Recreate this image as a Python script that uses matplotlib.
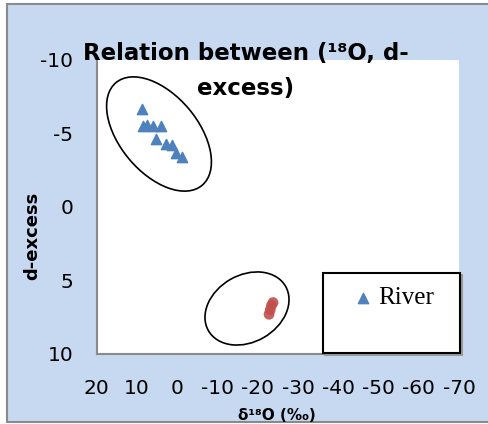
import numpy as np
import matplotlib
matplotlib.use("Agg")
from matplotlib import pyplot as plt
from matplotlib.patches import Rectangle, Ellipse

# δ18O と d-excess
river_o18 = [8.7, 8.5, 7.4, 6.0, 4.1, 5.3, 2.7, 1.4, 0.2, -1.2]
river_dex = [-6.7, -5.5, -5.6, -5.5, -5.5, -4.6, -4.3, -4.2, -3.7, -3.4]

other_o18 = [-23.8, -23.4, -23.1, -22.8]
other_dex = [6.5, 6.7, 7.0, 7.3]

x_ticks = [20, 10, 0, -10, -20, -30, -40, -50, -60, -70]
y_ticks = [-10, -5, 0, 5, 10]

BLUE = "#4F81BD"
RED = "#C0504D"
BG = "#C6D9F0"
GREY = "#8A8A8A"

plt.rcParams["font.family"] = ["DejaVu Sans"]
plt.rcParams["axes.unicode_minus"] = False

fig = plt.figure(figsize=(4.89, 4.24), dpi=100, facecolor="white")

# 背景の枠
fig.add_artist(Rectangle((0.0143, 0.0047), 1.0, 0.986, transform=fig.transFigure,
                         facecolor=BG, edgecolor=GREY, linewidth=1.5, zorder=-1))

ax = fig.add_axes([0.1978, 0.1651, 0.7409, 0.6934])
ax.set_facecolor("white")

ax.scatter(river_o18, river_dex, marker="^", s=55, color=BLUE, label="River", zorder=3)
ax.scatter(other_o18, other_dex, marker="o", s=60, color=RED, alpha=0.9,
           edgecolors="none", label="_nolegend_", zorder=3)

ax.set_xlim(20, -70)
ax.set_ylim(10, -10)
ax.set_xticks(x_ticks)
ax.set_yticks(y_ticks)
ax.tick_params(axis="both", length=0, labelsize=14.5)
ax.tick_params(axis="y", pad=17)
ax.tick_params(axis="x", pad=18)

for side in ["top", "right"]:
    ax.spines[side].set_visible(False)
for side in ["left", "bottom"]:
    ax.spines[side].set_color(GREY)
    ax.spines[side].set_linewidth(1.5)

ax.set_xlabel("δ¹⁸O (‰)", fontsize=11, fontweight="bold")
ax.xaxis.set_label_coords(0.4977, -0.185)
ax.set_ylabel("d-excess", fontsize=13, fontweight="bold")
ax.yaxis.set_label_coords(-0.154, 0.401)

fig.text(0.503, 0.833, "Relation between (¹⁸O, d-\nexcess)", ha="center", va="center",
         fontsize=16.5, fontweight="bold", linespacing=1.7)

# グループを囲む楕円
fig.add_artist(Ellipse((1.59, 2.90), 1.34, 0.78, angle=-50, transform=fig.dpi_scale_trans,
                       fill=False, edgecolor="black", linewidth=1.2))
fig.add_artist(Ellipse((2.47, 1.155), 0.89, 0.67, angle=30, transform=fig.dpi_scale_trans,
                       fill=False, edgecolor="black", linewidth=1.2))

# 凡例
ax.add_patch(Rectangle((0.631, -0.004), 0.378, 0.273, transform=ax.transAxes,
                       facecolor="none", edgecolor="#9a9a9a", linewidth=1.5,
                       clip_on=False, zorder=4))
ax.add_patch(Rectangle((0.625, 0.003), 0.378, 0.273, transform=ax.transAxes,
                       facecolor="white", edgecolor="black", linewidth=1.5,
                       clip_on=False, zorder=5))
ax.legend(loc="center left", bbox_to_anchor=(0.717, 0.19), frameon=False,
          borderpad=0, borderaxespad=0, handlelength=0.55, handletextpad=0.3,
          scatterpoints=1, prop={"family": "Liberation Serif", "size": 18}).set_zorder(6)

fig.savefig("out.png", dpi=100, facecolor="white")
